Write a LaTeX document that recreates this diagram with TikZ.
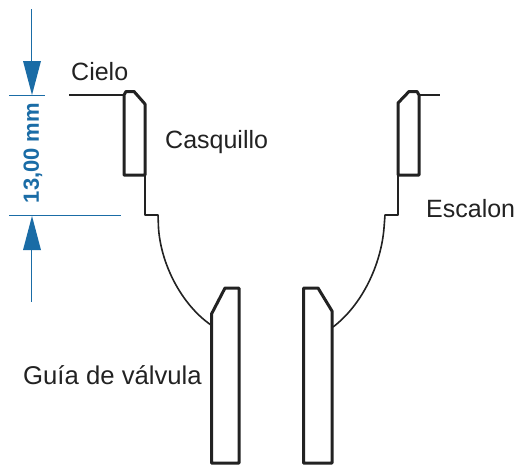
\documentclass[tikz,border=0pt]{standalone}
\usepackage{fontspec}
\setmainfont{Liberation Sans}
\definecolor{dimblue}{HTML}{1A6CA6}
\definecolor{ink}{HTML}{222222}
\tikzset{
  thick part/.style={draw=ink,line width=3pt,line join=round,fill=white},
  thin part/.style={draw=ink,line width=1.6pt,line join=round},
  dim line/.style={draw=dimblue,line width=1pt},
  dim head/.style={fill=dimblue,draw=none},
  lbl/.style={anchor=base west,inner sep=0pt,text=ink,font=\fontsize{25}{28}\selectfont},
}
\begin{document}
\begin{tikzpicture}[x=1pt,y=-1pt]
\useasboundingbox[fill=white] (0,0) rectangle (518,464);
% dimension
\draw[dim line] (9,95) -- (45,95);
\draw[dim line] (9,215) -- (121,215);
\draw[dim line] (31.5,9) -- (31.5,65);
\draw[dim line] (31.5,246) -- (31.5,302);
\fill[dim head] (23,61) -- (41,61) -- (32,95) -- cycle;
\fill[dim head] (23,250) -- (41,250) -- (32,216) -- cycle;
\node[rotate=90,inner sep=0pt,text=dimblue,font=\fontsize{22}{26}\selectfont\bfseries] (dim) at (33,153) {13,00 mm};
% left profile
\draw[thin part] (69,95) -- (124,95);
\draw[thin part] (145,175) -- (145,215) -- (158,215) -- (158.5,228)
  .. controls (161,265) and (182,305) .. (211,325);
\draw[thick part] (124,175) -- (124,95) -- (126,91.5) -- (134,91.5) -- (145,104) -- (145,175) -- cycle;
% right profile
\draw[thin part] (419,95) -- (440,95);
\draw[thin part] (398,175) -- (398,215) -- (385,215) -- (384,228)
  .. controls (381,265) and (362,305) .. (333,327);
\draw[thick part] (398,175) -- (398,103) -- (409,91.5) -- (417,91.5) -- (419,95) -- (419,175) -- cycle;
% valve guides
\draw[thick part] (211.5,463) -- (211.5,314) -- (225,288) -- (239,288) -- (239,463) -- cycle;
\draw[thick part] (303.5,463) -- (303.5,288) -- (318,288) -- (332,311) -- (332,463) -- cycle;
% labels
\node[lbl] (cielo) at (71,80) {Cielo};
\node[lbl] (casquillo) at (165,148) {Casquillo};
\node[lbl] (escalon) at (426,217) {Escalon};
\node[lbl,font=\fontsize{25.7}{28}\selectfont] (guia) at (23,384) {Guía de válvula};
\end{tikzpicture}
\end{document}
